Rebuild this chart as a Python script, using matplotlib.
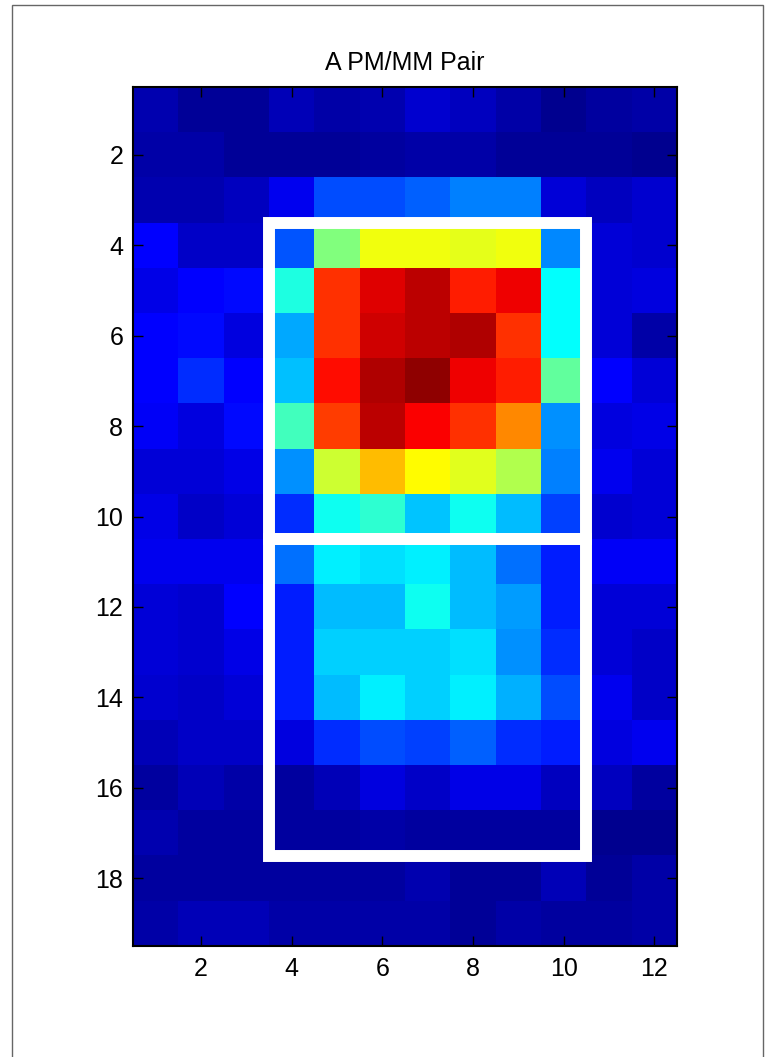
import numpy as np
import matplotlib
matplotlib.use("Agg")
import matplotlib.pyplot as plt
from matplotlib.colors import LinearSegmentedColormap
from matplotlib.patches import Rectangle

# probe intensities (percent of max), 19 rows x 12 columns
intensity = np.array([
    [4.7, 2.6, 2.6, 5.5, 4.2, 4.7, 7.9, 6.3, 4.0, 1.6, 3.2, 4.0],
    [4.0, 4.0, 2.4, 2.4, 2.6, 3.2, 4.0, 4.0, 2.6, 2.4, 2.4, 1.6],
    [4.7, 4.7, 6.3, 11.0, 20.0, 20.0, 22.0, 25.0, 25.0, 8.7, 6.3, 7.9],
    [12.5, 7.1, 7.1, 21.0, 50.0, 61.0, 61.0, 60.0, 61.0, 26.0, 8.7, 7.9],
    [10.2, 12.5, 13.3, 40.6, 82.8, 90.5, 93.8, 84.4, 89.0, 37.5, 8.7, 9.5],
    [12.5, 13.3, 9.5, 29.0, 82.8, 92.0, 93.8, 95.3, 82.8, 37.5, 8.7, 4.0],
    [12.5, 17.0, 12.5, 31.3, 86.0, 95.3, 98.4, 89.0, 84.4, 47.0, 12.5, 8.7],
    [11.8, 9.5, 13.3, 43.8, 81.3, 93.8, 87.5, 82.8, 74.2, 26.6, 9.5, 10.2],
    [8.7, 8.7, 10.2, 26.6, 57.8, 68.8, 62.5, 59.5, 54.7, 25.0, 11.0, 8.7],
    [10.2, 7.1, 8.7, 17.0, 39.0, 42.0, 32.0, 39.0, 31.0, 19.0, 7.9, 8.7],
    [11.0, 11.0, 11.0, 23.5, 36.0, 34.5, 36.0, 31.0, 23.5, 15.6, 11.8, 11.8],
    [8.7, 7.9, 12.5, 15.6, 31.0, 31.0, 39.0, 31.0, 28.0, 15.6, 8.7, 8.7],
    [8.7, 7.9, 10.2, 15.6, 33.0, 33.0, 33.0, 34.5, 26.6, 17.0, 8.7, 7.1],
    [7.9, 7.1, 8.7, 15.6, 31.0, 36.0, 33.0, 36.0, 30.0, 20.0, 11.0, 7.1],
    [5.5, 7.1, 7.1, 9.5, 17.0, 20.0, 19.0, 22.0, 17.0, 15.6, 9.5, 11.0],
    [3.2, 5.5, 4.0, 3.2, 5.5, 9.5, 7.1, 10.2, 10.2, 6.3, 6.3, 3.2],
    [4.7, 3.2, 3.2, 3.2, 3.2, 4.0, 3.2, 3.2, 3.2, 3.2, 1.6, 1.6],
    [3.2, 3.2, 3.2, 3.2, 3.2, 3.2, 4.7, 2.4, 2.4, 5.5, 2.4, 4.0],
    [4.0, 5.5, 5.5, 4.0, 4.0, 4.0, 4.0, 2.4, 4.0, 3.2, 3.2, 4.0],
])

# PM cell block and MM cell block (x0, y0, width, height) in cell units
pm_box = (3.5, 3.5, 7, 7)
mm_box = (3.5, 10.5, 7, 7)

xticks = [2, 4, 6, 8, 10, 12]
yticks = [2, 4, 6, 8, 10, 12, 14, 16, 18]

# matlab style jet
matlab_jet = LinearSegmentedColormap("matlab_jet", {
    "red":   [(0, 0, 0), (0.375, 0, 0), (0.625, 1, 1), (0.875, 1, 1), (1, 0.5, 0.5)],
    "green": [(0, 0, 0), (0.125, 0, 0), (0.375, 1, 1), (0.625, 1, 1), (0.875, 0, 0), (1, 0, 0)],
    "blue":  [(0, 0.5, 0.5), (0.125, 1, 1), (0.375, 1, 1), (0.625, 0, 0), (1, 0, 0)],
}, N=256)

plt.rcParams['font.family'] = ['Liberation Sans', 'DejaVu Sans']

fig = plt.figure(figsize=(7.66, 10.57), dpi=100)
ax = fig.add_axes([133 / 766, 111 / 1057, 544 / 766, 859 / 1057])

nrows, ncols = intensity.shape
ax.imshow(intensity, cmap=matlab_jet, vmin=0, vmax=100, aspect='auto',
          interpolation='nearest',
          extent=(0.5, ncols + 0.5, nrows + 0.5, 0.5))

for box in (pm_box, mm_box):
    ax.add_patch(Rectangle(box[:2], box[2], box[3], fill=False,
                           edgecolor='white', linewidth=8.6))

ax.set_xlim(0.5, ncols + 0.5)
ax.set_ylim(nrows + 0.5, 0.5)
ax.set_xticks(xticks)
ax.set_yticks(yticks)
ax.tick_params(direction='in', length=7, width=1, top=True, right=True,
               labelsize=18, colors='black')
ax.tick_params(axis='x', pad=8)
ax.tick_params(axis='y', pad=7)
for s in ax.spines.values():
    s.set_linewidth(1.5)

ax.set_title("A PM/MM Pair", fontsize=18, pad=12)

# thin frame around the figure window
fig.add_artist(Rectangle((12 / 766, -0.01), 751 / 766, 1 - 5 / 1057 + 0.01,
                         transform=fig.transFigure, fill=False,
                         edgecolor='#666666', linewidth=1))

fig.savefig("out.png", dpi=100)
